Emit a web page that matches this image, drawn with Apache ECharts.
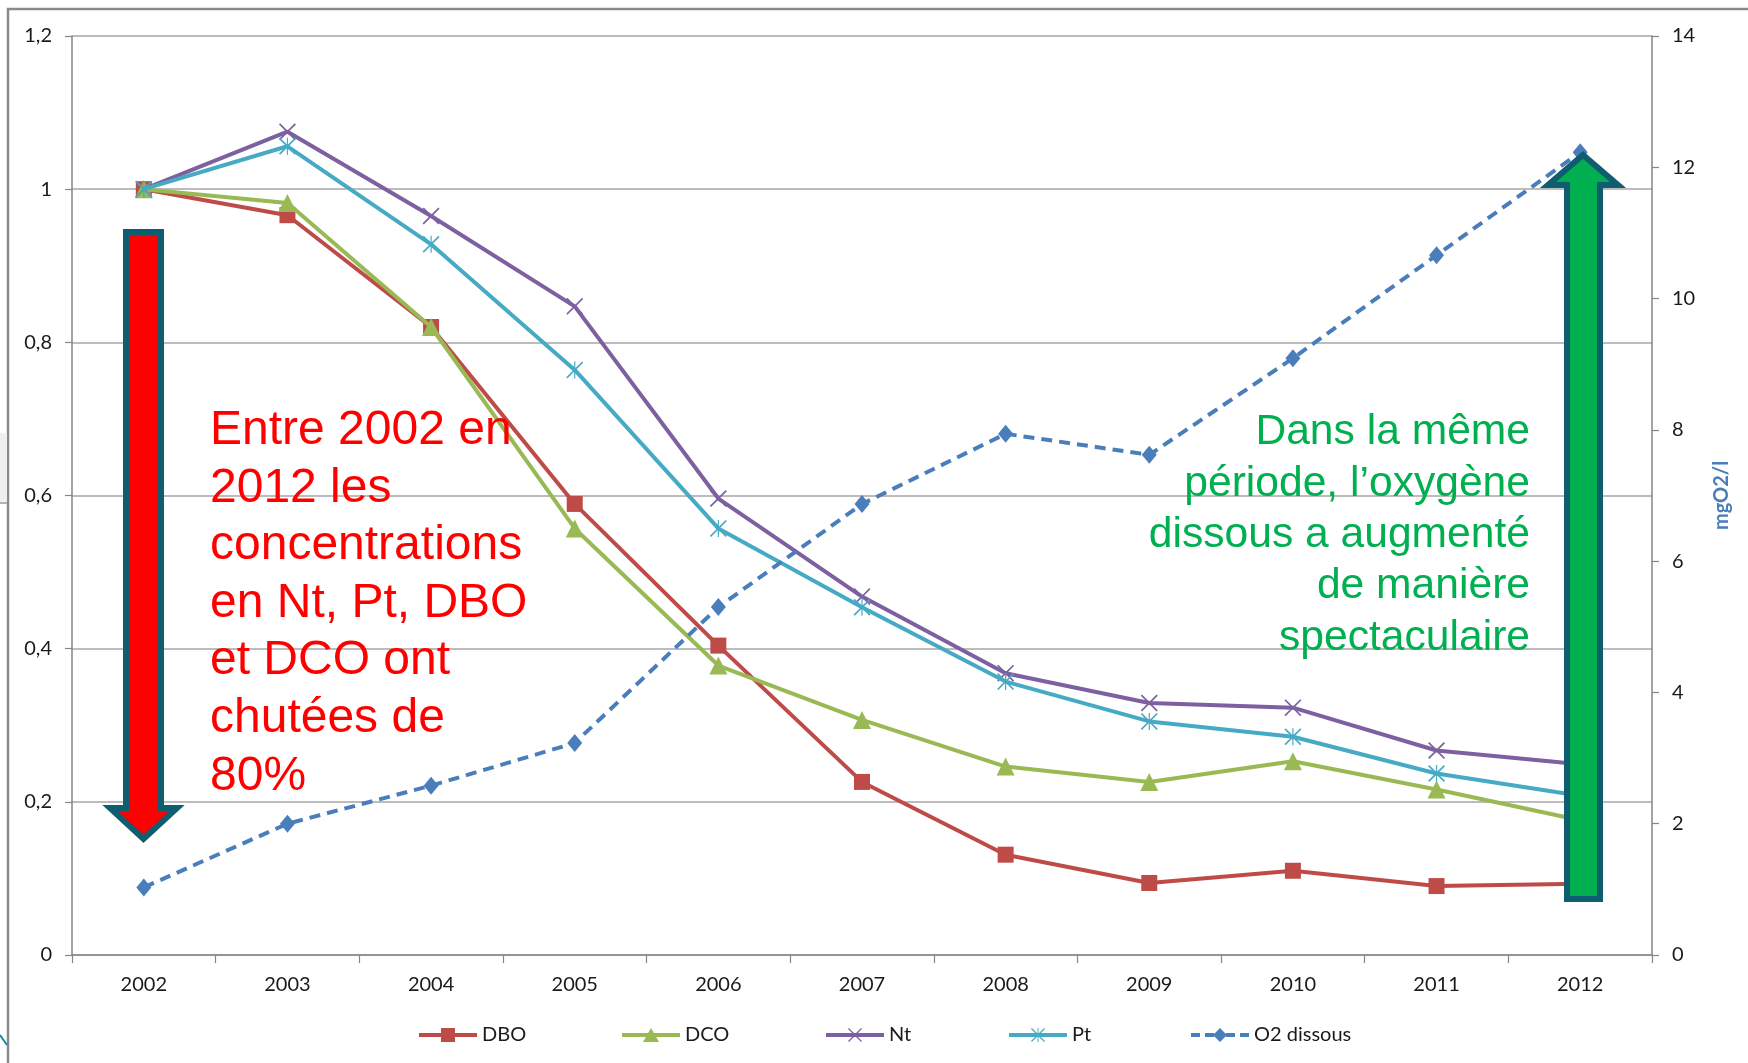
<!DOCTYPE html>
<html>
<head>
<meta charset="utf-8">
<script src="https://cdn.jsdelivr.net/npm/echarts@6/dist/echarts.min.js"></script>
<style>
html,body{margin:0;padding:0;background:#ffffff;}
#c{width:1748px;height:1063px;}
</style>
</head>
<body>
<div id="c"></div>
<script>
// ---- data ----
const years = ['2002','2003','2004','2005','2006','2007','2008','2009','2010','2011','2012'];
const dbo = [1.0, 0.966, 0.820, 0.589, 0.404, 0.226, 0.131, 0.094, 0.110, 0.090, 0.093];
const dco = [1.0, 0.982, 0.820, 0.557, 0.378, 0.307, 0.246, 0.226, 0.253, 0.216, 0.176];
const nt  = [1.0, 1.075, 0.965, 0.847, 0.596, 0.468, 0.368, 0.329, 0.323, 0.267, 0.249];
const pt  = [1.0, 1.056, 0.928, 0.764, 0.557, 0.454, 0.357, 0.305, 0.285, 0.237, 0.208];
const o2  = [1.03, 2.00, 2.58, 3.23, 5.30, 6.87, 7.94, 7.62, 9.09, 10.66, 12.23];
const seriesNames = ['DBO','DCO','Nt','Pt','O2 dissous'];
const rightAxisName = 'mgO2/l';
const leftText = 'Entre 2002 en\n2012 les\nconcentrations\nen Nt, Pt, DBO\net DCO ont\nchutées de\n80%';
const rightText = 'Dans la même\npériode, l’oxygène\ndissous a augmenté\nde manière\nspectaculaire';

// ---- styles ----
const colors = ['#BE4B48','#98B954','#7D60A0','#46AAC5','#4A7EBB'];
const FONT = 'Lato, "Open Sans", sans-serif';
const xSym = 'path://M0,1.4L1.4,0L10,8.6L18.6,0L20,1.4L11.4,10L20,18.6L18.6,20L10,11.4L1.4,20L0,18.6L8.6,10Z';
const starSym = xSym + 'M9.3,0L10.7,0L10.7,20L9.3,20Z';
const axisGray = '#868686';

// legend icons (58 x 14 box): thick line + marker
const seg = (a, b) => `M${a},5L${b},5L${b},9L${a},9Z`;
const legX = 'M22,0.9L22.9,0L29,6.1L35.1,0L36,0.9L29.9,7L36,13.1L35.1,14L29,7.9L22.9,14L22,13.1L28.1,7Z';
const legendIcons = [
  'path://' + seg(0, 58) + 'M22,0L36,0L36,14L22,14Z',
  'path://' + seg(0, 58) + 'M21,14L29,0L37,14Z',
  'path://' + seg(0, 58) + legX,
  'path://' + seg(0, 58) + legX + 'M28.5,0L29.5,0L29.5,14L28.5,14Z',
  'path://' + seg(0, 9) + seg(14, 23) + seg(35, 44) + seg(49, 58) + 'M29,0L36,7L29,14L22,7Z'
];

const chart = echarts.init(document.getElementById('c'), null, {renderer:'canvas'});

function lineSeries(i, data, symbol, size, extra) {
  return Object.assign({
    name: seriesNames[i],
    type: 'line',
    data: data,
    symbol: symbol,
    symbolSize: size,
    symbolKeepAspect: true,
    showSymbol: true,
    lineStyle: {color: colors[i], width: 4},
    itemStyle: {color: colors[i]},
    emphasis: {disabled: true},
    animation: false,
    z: 2 + i
  }, extra || {});
}

const legendLefts = [419, 622, 826, 1009, 1191];
const legends = seriesNames.map((n, i) => ({
  data: [{name: n, icon: legendIcons[i], itemStyle: {color: colors[i], borderWidth: 0}}],
  left: legendLefts[i],
  top: 1022,
  padding: 0,
  itemWidth: 58,
  itemHeight: 14,
  itemGap: 0,
  itemTextGap: 8,
  selectedMode: false,
  textStyle: {color: '#1a1a1a', fontSize: 20, fontFamily: FONT, lineHeight: 26}
}));

const arrowStroke = '#0F5E70';

const option = {
  backgroundColor: '#ffffff',
  animation: false,
  textStyle: {fontFamily: FONT},
  grid: {left: 72, right: 96, top: 36, bottom: 108},
  legend: legends,
  xAxis: {
    type: 'category',
    data: years,
    boundaryGap: true,
    axisLine: {show: true, lineStyle: {color: axisGray, width: 1.5}},
    axisTick: {show: true, length: 8, interval: 0, lineStyle: {color: axisGray, width: 1.2}},
    axisLabel: {interval: 0, color: '#1a1a1a', fontSize: 20, fontFamily: FONT, margin: 20},
    splitLine: {show: false}
  },
  yAxis: [
    {
      type: 'value', position: 'left', min: 0, max: 1.2, interval: 0.2,
      axisLine: {show: true, lineStyle: {color: axisGray, width: 1.5}},
      axisTick: {show: true, length: 7, lineStyle: {color: axisGray, width: 1.2}},
      axisLabel: {color: '#1a1a1a', fontSize: 20, fontFamily: FONT, margin: 20,
        formatter: v => String(+v.toFixed(1)).replace('.', ',')},
      splitLine: {show: true, lineStyle: {color: '#A6A6A6', width: 1.5}}
    },
    {
      type: 'value', position: 'right', min: 0, max: 14, interval: 2,
      name: rightAxisName, nameLocation: 'middle', nameRotate: 90, nameGap: 60,
      nameTextStyle: {color: '#4A7EBB', fontWeight: 'bold', fontSize: 20, fontFamily: FONT},
      axisLine: {show: true, lineStyle: {color: axisGray, width: 1.5}},
      axisTick: {show: true, length: 7, lineStyle: {color: axisGray, width: 1.2}},
      axisLabel: {color: '#1a1a1a', fontSize: 20, fontFamily: FONT, margin: 20},
      splitLine: {show: false}
    }
  ],
  series: [
    lineSeries(0, dbo, 'rect', 16),
    lineSeries(1, dco, 'triangle', 18),
    lineSeries(2, nt, xSym, 17),
    lineSeries(3, pt, starSym, 17),
    lineSeries(4, o2, 'diamond', [15, 18], {
      yAxisIndex: 1,
      lineStyle: {color: colors[4], width: 4, type: [11, 7]}
    })
  ],
  graphic: [
    // chart-area frame
    {type: 'rect', silent: true, z: 1,
      shape: {x: 8, y: 9, width: 1760, height: 1080},
      style: {fill: 'none', stroke: '#8a8a8a', lineWidth: 2.5}},
    // slide remnants on left edge
    {type: 'rect', silent: true, z: 1, shape: {x: 0, y: 433, width: 7, height: 71},
      style: {fill: '#efefef', stroke: null}},
    {type: 'line', silent: true, z: 1, shape: {x1: 0, y1: 503, x2: 7, y2: 503},
      style: {stroke: '#b4b4b4', lineWidth: 2}},
    {type: 'line', silent: true, z: 1, shape: {x1: 0, y1: 1035, x2: 7, y2: 1045},
      style: {stroke: '#1b8aa3', lineWidth: 2}},
    // red down arrow
    {type: 'polygon', silent: true, z: 100,
      shape: {points: [[126,232],[161,232],[161,808],[177,808],[143.5,839],[110,808],[126,808]]},
      style: {fill: '#FF0000', stroke: arrowStroke, lineWidth: 6, lineJoin: 'miter'}},
    // green up arrow
    {type: 'polygon', silent: true, z: 100,
      shape: {points: [[1567,899],[1600,899],[1600,185],[1618,185],[1583,155],[1548,185],[1567,185]]},
      style: {fill: '#00B050', stroke: arrowStroke, lineWidth: 6, lineJoin: 'miter'}},
    // annotations
    {type: 'text', silent: true, z: 101, x: 210, y: 402,
      style: {text: leftText, fill: '#FF0000', fontSize: 48,
        fontFamily: '"Liberation Sans", Arial, sans-serif', lineHeight: 57.6,
        align: 'left', verticalAlign: 'top'}},
    {type: 'text', silent: true, z: 101, x: 1530, y: 407,
      style: {text: rightText, fill: '#00B050', fontSize: 42.6,
        fontFamily: '"Liberation Sans", Arial, sans-serif', lineHeight: 51.3,
        align: 'right', verticalAlign: 'top'}}
  ]
};
chart.setOption(option);
</script>
</body>
</html>
